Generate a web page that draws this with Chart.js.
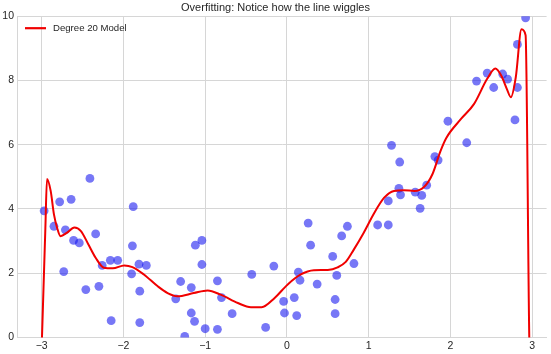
<!DOCTYPE html>
<html>
<head>
<meta charset="utf-8">
<script src="https://cdn.jsdelivr.net/npm/chart.js@4.4.0/dist/chart.umd.min.js"></script>
<style>
  html, body { margin: 0; padding: 0; background: #fff; }
  canvas { display: block; }
</style>
</head>
<body>
<canvas id="chart" width="551" height="354"></canvas>
<script>
const title = 'Overfitting: Notice how the line wiggles';
const modelLabel = 'Degree 20 Model';

const xTicks = [-3, -2, -1, 0, 1, 2, 3];
const yTicks = [0, 2, 4, 6, 8, 10];

// noisy samples
const sampleX = [
  -2.97, -2.41, -2.78, -2.64, -2.85, -2.71, -2.61, -2.54, -2.34, -2.73,
  -2.46, -2.30, -2.26, -2.16, -2.07, -2.15, -1.88, -1.89, -1.90, -1.81,
  -1.72, -1.80, -1.80, -1.36, -1.30, -1.17, -1.17, -1.13, -1.25, -1.12,
  -1.04, -1.04, -0.85, -0.80, -1.00, -0.85, -0.67, -0.43, -0.26, -0.16,
  -0.04, -0.03, 0.09, 0.12, 0.14, 0.16, 0.26, 0.29, 0.37, 0.56,
  0.61, 0.59, 0.59, 0.67, 0.74, 0.82, 1.11, 1.24, 1.24, 1.28,
  1.38, 1.37, 1.39, 1.57, 1.65, 1.63, 1.71, 1.81, 1.85, 1.97,
  2.20, 2.32, 2.45, 2.53, 2.64, 2.70, 2.82, 2.79, 2.82, 2.92
];
const sampleY = [
  3.94, 4.95, 4.22, 4.30, 3.46, 3.35, 3.02, 2.94, 3.22, 2.05,
  1.49, 1.59, 2.24, 2.40, 2.40, 0.52, 4.07, 2.85, 1.98, 2.28,
  2.24, 1.44, 0.46, 1.20, 1.74, 1.55, 0.76, 0.50, 0.03, 2.87,
  3.02, 2.27, 1.76, 1.24, 0.27, 0.25, 0.74, 1.96, 0.31, 2.22,
  1.12, 0.76, 1.24, 0.68, 2.03, 1.78, 3.56, 2.87, 1.66, 2.52,
  1.93, 1.18, 0.74, 3.16, 3.46, 2.30, 3.50, 3.50, 4.25, 5.98,
  5.46, 4.64, 4.44, 4.52, 4.42, 4.02, 4.74, 5.63, 5.52, 6.73,
  6.06, 7.98, 8.23, 7.78, 8.20, 8.04, 7.78, 6.77, 9.12, 9.95
];

// fitted curve
const modelX = [
  -3.00, -2.955, -2.935, -2.89, -2.85, -2.81, -2.77, -2.69, -2.60, -2.52,
  -2.43, -2.34, -2.24, -2.13, -1.99, -1.89, -1.75, -1.58, -1.46, -1.34,
  -1.14, -0.97, -0.81, -0.60, -0.44, -0.31, -0.15, 0.01, 0.17, 0.33,
  0.50, 0.62, 0.72, 0.82, 0.94, 1.07, 1.19, 1.31, 1.43, 1.56,
  1.68, 1.78, 1.88, 1.95, 2.13, 2.29, 2.45, 2.55, 2.62, 2.69,
  2.74, 2.80, 2.87, 2.92, 2.965, 2.97
];
const modelY = [
  -0.3, 3.40, 4.93, 4.56, 3.83, 3.40, 3.15, 3.26, 3.42, 3.31,
  2.90, 2.48, 2.17, 2.15, 2.24, 2.19, 1.96, 1.59, 1.38, 1.28,
  1.38, 1.46, 1.33, 1.07, 0.94, 0.94, 1.23, 1.65, 1.96, 2.09,
  2.10, 2.18, 2.35, 2.74, 3.26, 3.88, 4.35, 4.56, 4.58, 4.56,
  4.69, 5.08, 5.81, 6.21, 6.80, 7.27, 8.05, 8.37, 8.16, 7.74,
  7.48, 8.10, 9.59, 9.41, 0, -0.5
];

const fmt = v => String(v).replace('-', '\u2212');

// legend drawn inside the plot, top-left
const innerLegend = {
  id: 'innerLegend',
  afterDraw(chart) {
    const ds = chart.data.datasets[0];
    const { ctx, chartArea } = chart;
    const x = chartArea.left + 8, y = chartArea.top + 12;
    ctx.save();
    ctx.strokeStyle = ds.borderColor;
    ctx.lineWidth = 2.2;
    ctx.beginPath();
    ctx.moveTo(x, y);
    ctx.lineTo(x + 21, y);
    ctx.stroke();
    ctx.fillStyle = '#262626';
    ctx.font = '9.6px "Liberation Sans", Arial, sans-serif';
    ctx.textBaseline = 'middle';
    ctx.fillText(ds.label, x + 28, y);
    ctx.restore();
  }
};

const gridColor = '#d6d6d6';

new Chart(document.getElementById('chart'), {
  data: {
    datasets: [
      {
        type: 'line',
        label: modelLabel,
        data: modelX.map((x, i) => ({ x, y: modelY[i] })),
        borderColor: '#f00000',
        borderWidth: 2,
        pointRadius: 0,
        cubicInterpolationMode: 'monotone',
        fill: false,
        order: 0
      },
      {
        type: 'scatter',
        label: 'data',
        data: sampleX.map((x, i) => ({ x, y: sampleY[i] })),
        backgroundColor: 'rgba(20,20,240,0.58)',
        borderWidth: 0,
        pointRadius: 4.4,
        order: 1
      }
    ]
  },
  options: {
    responsive: false,
    animation: false,
    layout: { padding: 0 },
    plugins: {
      legend: { display: false },
      tooltip: { enabled: false },
      title: {
        display: true,
        text: title,
        color: '#262626',
        font: { family: '"Liberation Sans", Arial, sans-serif', size: 11, weight: 'normal' },
        padding: { top: 1, bottom: 2 }
      }
    },
    scales: {
      x: {
        type: 'linear',
        min: -3.302,
        max: 3.177,
        afterBuildTicks: s => { s.ticks = xTicks.map(v => ({ value: v })); },
        ticks: {
          callback: v => fmt(v),
          color: '#262626',
          font: { family: '"Liberation Sans", Arial, sans-serif', size: 10.5 },
          padding: 2,
          maxRotation: 0
        },
        grid: { color: gridColor, drawTicks: false },
        border: { color: gridColor }
      },
      y: {
        type: 'linear',
        min: 0,
        max: 10,
        afterBuildTicks: s => { s.ticks = yTicks.map(v => ({ value: v })); },
        afterFit: s => { s.width = 17; },
        ticks: {
          callback: v => fmt(v),
          color: '#262626',
          font: { family: '"Liberation Sans", Arial, sans-serif', size: 10.5 },
          padding: 3
        },
        grid: { color: gridColor, drawTicks: false },
        border: { color: gridColor }
      }
    }
  },
  plugins: [innerLegend]
});
</script>
</body>
</html>
